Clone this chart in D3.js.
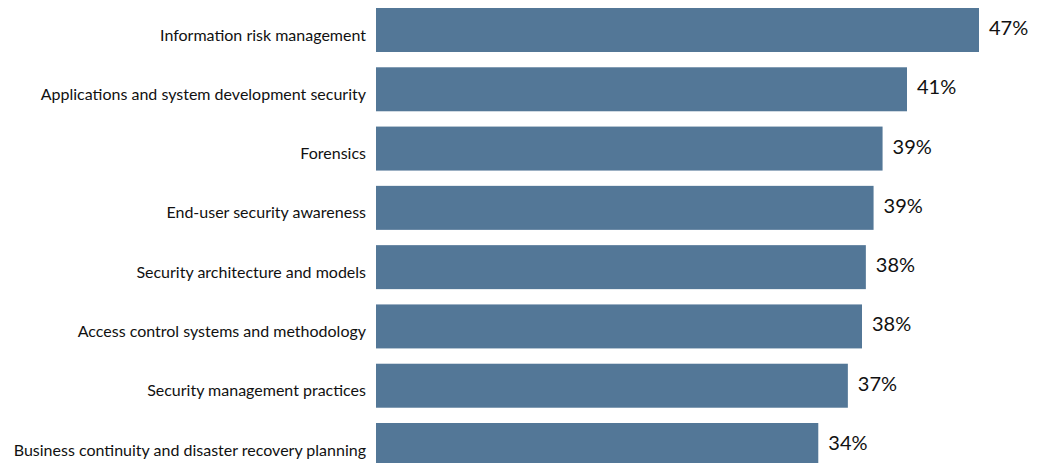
<!DOCTYPE html>
<html>
<head>
<meta charset="utf-8">
<script src="https://cdn.jsdelivr.net/npm/d3@7"></script>
<style>
  body { margin: 0; background: #fff; }
  svg { display: block; }
</style>
</head>
<body>
<div id="vis"></div>
<script>
const categories = [
  "Information risk management",
  "Applications and system development security",
  "Forensics",
  "End-user security awareness",
  "Security architecture and models",
  "Access control systems and methodology",
  "Security management practices",
  "Business continuity and disaster recovery planning"
];
const values = [46.9, 41.3, 39.4, 38.7, 38.1, 37.8, 36.7, 34.4];
const valueLabels = ["47%", "41%", "39%", "39%", "38%", "38%", "37%", "34%"];

const WIDTH = 1042, HEIGHT = 463;
const BAR_LEFT = 376;

const svg = d3.select("#vis").append("svg")
  .attr("width", WIDTH)
  .attr("height", HEIGHT);

// x scale: bar length
const xScale = d3.scaleLinear()
  .domain([0, d3.max(values)])
  .range([BAR_LEFT, 979]);

// y scale: one band per category
const yScale = d3.scaleBand()
  .domain(categories)
  .range([8, 467])
  .paddingInner(0.258)
  .paddingOuter(0);

const rows = categories.map((c, i) => ({cat: c, val: values[i], label: valueLabels[i]}));

svg.selectAll("rect.bar")
  .data(rows)
  .enter()
  .append("rect")
  .attr("class", "bar")
  .attr("x", xScale(0))
  .attr("y", d => yScale(d.cat))
  .attr("width", d => xScale(d.val) - xScale(0))
  .attr("height", yScale.bandwidth())
  .attr("fill", "#537797");

// category labels on the left
svg.selectAll("text.cat")
  .data(rows)
  .enter()
  .append("text")
  .attr("class", "cat")
  .attr("x", BAR_LEFT - 10)
  .attr("y", d => yScale(d.cat) + yScale.bandwidth() / 2 + 5)
  .attr("dy", "0.35em")
  .attr("text-anchor", "end")
  .attr("font-family", "Lato, sans-serif")
  .attr("font-size", "16px")
  .attr("fill", "#111")
  .text(d => d.cat);

// value labels right of bars
svg.selectAll("text.val")
  .data(rows)
  .enter()
  .append("text")
  .attr("class", "val")
  .attr("x", d => xScale(d.val) + 10)
  .attr("y", d => yScale(d.cat) + yScale.bandwidth() / 2 - 2)
  .attr("dy", "0.35em")
  .attr("font-family", "Lato, sans-serif")
  .attr("font-size", "20px")
  .attr("fill", "#111")
  .text(d => d.label);
</script>
</body>
</html>
